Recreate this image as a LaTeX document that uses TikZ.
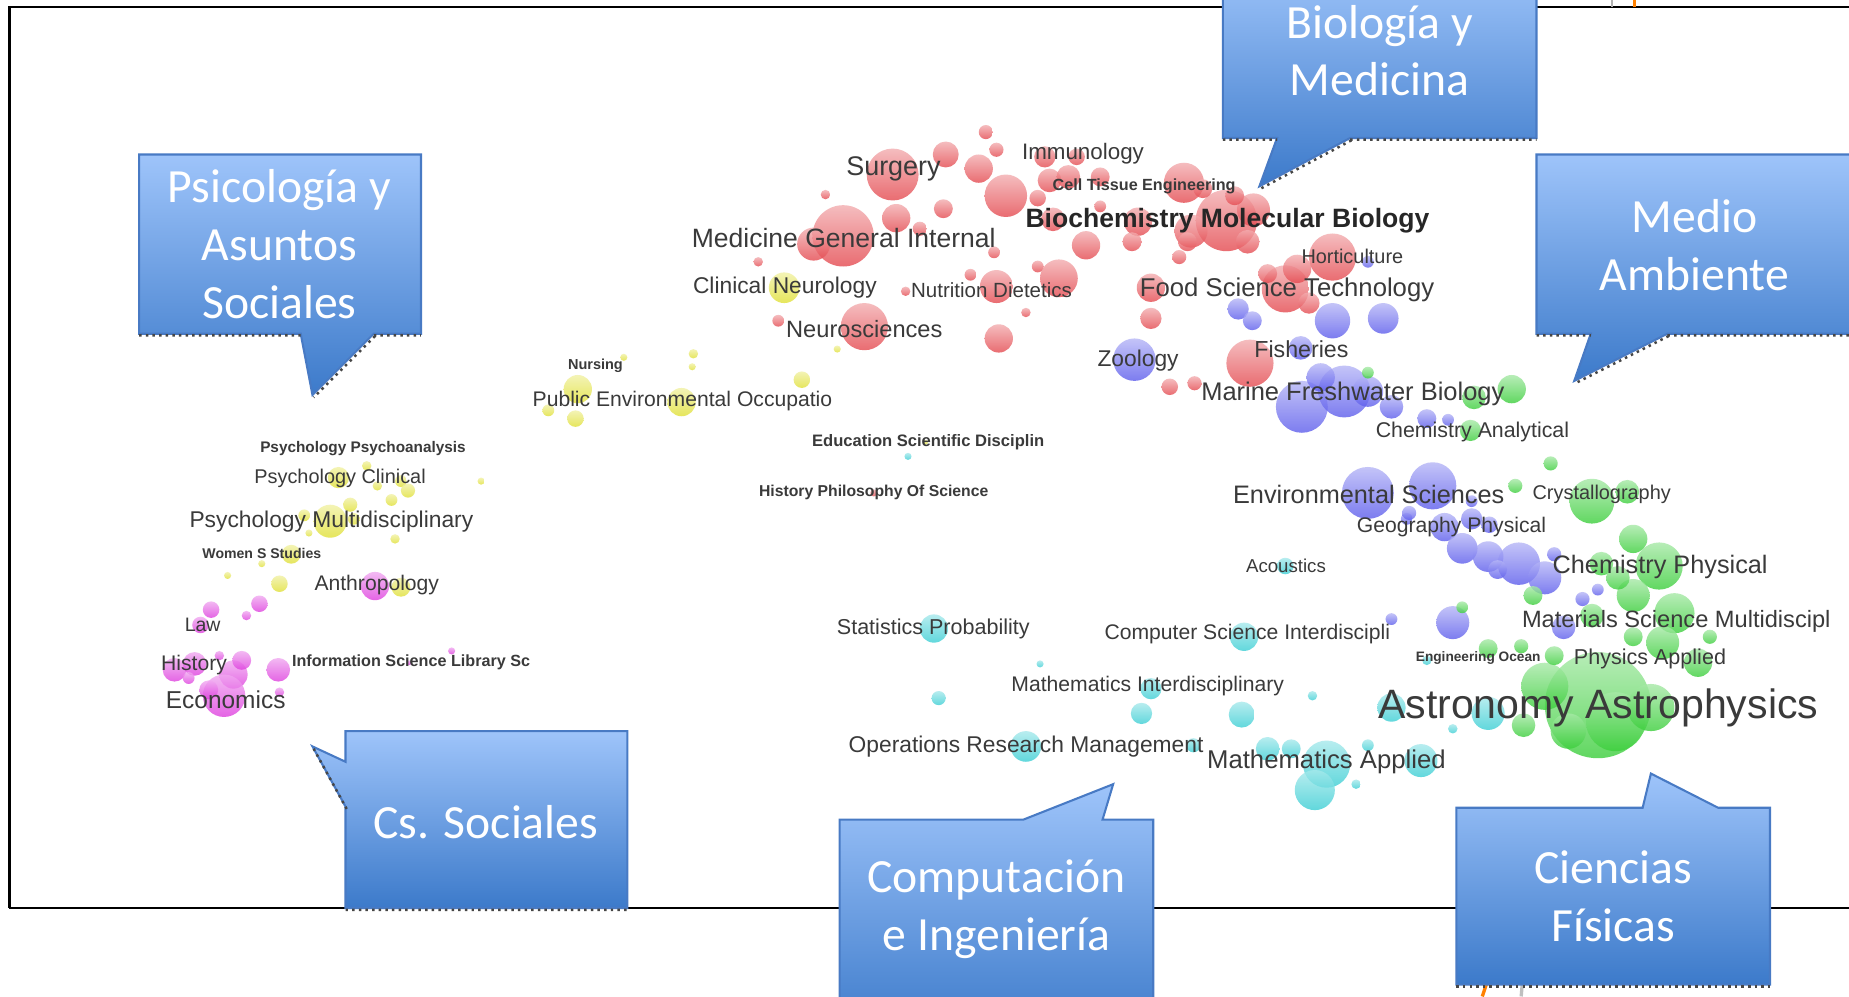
\documentclass[tikz,border=0pt]{standalone}
\usepackage{fontspec}
\setmainfont{Liberation Sans}
\newfontfamily\calloutfont{Carlito}
\usetikzlibrary{positioning}

\definecolor{bred}{RGB}{228,72,78}
\definecolor{bblue}{RGB}{92,92,236}
\definecolor{bgreen}{RGB}{58,206,58}
\definecolor{bcyan}{RGB}{58,206,212}
\definecolor{byellow}{RGB}{224,224,52}
\definecolor{bmag}{RGB}{222,62,222}
\definecolor{calltop}{RGB}{158,196,250}
\definecolor{callbot}{RGB}{60,122,202}
\definecolor{callline}{RGB}{72,122,196}
\definecolor{labgray}{RGB}{58,58,58}

\newcommand{\fsz}[1]{\fontsize{#1pt}{#1pt}\selectfont}
\newcommand{\bubbles}[2]{\foreach \bx/\by/\br in {#2} {\shade[bubble=#1] (\bx,\by) circle[radius=\br];}}

\begin{document}
\begin{tikzpicture}[x=0.1mm, y=-0.1mm,
  lab/.style={anchor=west, inner sep=0pt, text=labgray},
  labb/.style={anchor=west, inner sep=0pt, text=labgray},
  bubble/.style={top color=#1!45!white, bottom color=#1, fill opacity=0.8},
  callout/.style={draw=callline, line width=0.5pt, top color=calltop, bottom color=callbot},
  calltext/.style={text=white, align=center, inner sep=0pt, font=\calloutfont\fontsize{11.5pt}{13.9pt}\selectfont},
  shadowline/.style={draw=gray!55!black, densely dotted, line width=0.6pt}
]
\useasboundingbox (0,0) rectangle (1568,845);
\clip (0,0) rectangle (1568,845);
\fill[white] (0,0) rectangle (1568,845);

% Frame of the map
\draw[line width=0.6pt] (8,770) -- (8,6) -- (1600,6);
\draw[line width=0.6pt] (8,770) -- (1600,770);
\draw[gray!60, line width=0.6pt] (1367,0) -- (1367,6);
\draw[orange, line width=0.8pt] (1386,0) -- (1386,6);
\draw[orange, line width=0.8pt] (1262,830) -- (1257,845);
\draw[gray!50, line width=0.8pt] (1291,833) -- (1290,845);

% Bubbles
\bubbles{bred}{757/148/22, 802/131/11, 830/143/12, 836/112/6, 845/127/6, 853/166/18, 886/133/9, 890/153/10, 880/168/7, 906/150/10, 913/133/7, 933/150/8, 1004/155/17, 1040/187/26, 1010/196/14, 965/188/12, 921/208/12, 893/186/10, 880/226/5, 898/236/16, 845/243/14, 843/214/5, 870/265/4, 847/287/12, 715/200/26, 690/207/14, 760/185/12, 800/177/8, 780/194/6, 700/165/4, 643/222/4, 733/277/20, 660/272/5, 768/247/4, 823/233/5, 976/244/12, 976/270/9, 1060/308/20, 992/328/7, 1013/325/6, 1090/245/20, 1130/218/20, 1100/228/12, 1075/232/8, 1063/178/14, 1058/205/10, 1007/205/8, 1110/257/9, 1020/160/8, 1047/166/8, 960/205/8, 1000/218/6, 933/175/5, 741/418/3}
\bubbles{bblue}{962/305/18, 1050/262/9, 1062/272/8, 1130/272/15, 1173/270/13, 1103/295/10, 1104/345/22, 1140/332/22, 1120/320/12, 1160/332/13, 1180/345/10, 1210/355/8, 1228/356/5, 1160/418/22, 1215/412/20, 1193/440/5, 1225/447/12, 1248/440/9, 1240/465/13, 1262/472/13, 1288/478/18, 1310/490/14, 1270/483/8, 1318/470/6, 1232/528/14, 1180/525/5, 1326/532/10, 1342/508/6, 1355/500/5, 1248/425/5, 1263/445/7, 1160/222/5, 1195/435/6}
\bubbles{bgreen}{1282/330/12, 1250/337/10, 1247/365/9, 1315/393/6, 1285/412/6, 1350/425/19, 1380/417/10, 1385/457/12, 1358/478/10, 1407/480/20, 1420/520/17, 1385/505/14, 1372/490/10, 1350/522/10, 1385/540/8, 1410/545/14, 1440/562/12, 1450/540/6, 1355/598/45, 1370/612/25, 1310/582/20, 1292/615/10, 1330/620/15, 1318/556/8, 1262/550/8, 1240/515/5, 1300/505/8, 1160/316/5, 1290/548/6, 1400/600/20}
\bubbles{bcyan}{792/533/12, 770/387/3, 882/563/3, 796/592/6, 870/633/13, 968/605/9, 976/584/9, 1012/632/6, 1055/540/12, 1053/606/11, 1075/635/10, 1113/590/4, 1125/648/20, 1115/670/17, 1095/635/8, 1160/632/5, 1150/665/4, 1205/645/14, 1180/600/12, 1262/605/14, 1232/618/4, 1090/480/7, 1210/560/4}
\bubbles{byellow}{665/244/13, 710/296/3, 490/330/12, 488/355/7, 465/348/5, 578/341/12, 529/303/3, 588/300/4, 587/311/3, 680/322/7, 408/408/3, 311/395/4, 287/405/9, 340/408/5, 346/416/6, 297/428/6, 332/424/5, 320/412/4, 280/442/14, 258/437/5, 335/457/4, 247/470/8, 237/495/7, 222/478/3, 193/488/3, 262/452/3, 340/498/8, 300/440/5, 785/375/2}
\bubbles{bmag}{318/497/12, 220/512/7, 209/522/4, 179/517/7, 170/530/7, 148/568/10, 165/563/10, 198/572/12, 190/590/18, 177/585/8, 236/568/10, 186/556/4, 237/587/4, 383/552/3, 347/562/2, 160/575/5, 205/560/8}

% Biology and medicine labels
\node[lab, font=\fsz{6.5}] (surgery) at (717,143) {Surgery};
\node[lab, font=\fsz{5.4}] (immunology) at (866,130) {Immunology};
\node[labb, font=\bfseries\fsz{3.9}] (celltissue) at (892,158) {Cell Tissue Engineering};
\node[lab, text=black!85, font=\bfseries\fsz{6.4}] (biochem) at (869,187) {Biochemistry Molecular Biology};
\node[lab, font=\fsz{6.4}] (medicine) at (586,202) {Medicine General Internal};
\node[lab, font=\fsz{4.8}] (horticulture) at (1103,217) {Horticulture};
\node[lab, font=\fsz{5.5}] (clinneuro) at (587,244) {Clinical Neurology};
\node[lab, font=\fsz{4.95}] (nutrition) at (772,246) {Nutrition Dietetics};
\node[lab, font=\fsz{6.2}] (foodsci) at (966,246) {Food Science Technology};
\node[lab, font=\fsz{5.7}] (neuro) at (666,279) {Neurosciences};
\node[lab, font=\fsz{5.6}] (fisheries) at (1063,296) {Fisheries};
\node[lab, font=\fsz{5.5}] (zoology) at (930,306) {Zoology};
\node[labb, font=\bfseries\fsz{3.5}] (nursing) at (481,310) {Nursing};
\node[lab, font=\fsz{6.15}] (marine) at (1018,334) {Marine Freshwater Biology};
\node[lab, font=\fsz{5.1}] (publicenv) at (451,340) {Public Environmental Occupatio};

% Environment and physical sciences labels
\node[lab, font=\fsz{5.15}] (chemanal) at (1166,366) {Chemistry Analytical};
\node[lab, font=\fsz{6.1}] (envsci) at (1045,419) {Environmental Sciences};
\node[lab, font=\fsz{4.8}] (crystal) at (1299,419) {Crystallography};
\node[lab, font=\fsz{5.1}] (geography) at (1150,447) {Geography Physical};
\node[lab, font=\fsz{4.5}] (acoustics) at (1056,480) {Acoustics};
\node[lab, font=\fsz{6.1}] (chemphys) at (1316,481) {Chemistry Physical};
\node[lab, font=\fsz{5.7}] (materials) at (1290,527) {Materials Science Multidiscipl};
\node[labb, font=\bfseries\fsz{3.3}] (engocean) at (1200,558) {Engineering Ocean};
\node[lab, font=\fsz{5.2}] (physapp) at (1334,559) {Physics Applied};
\node[lab, font=\fsz{9.9}] (astro) at (1168,600) {Astronomy Astrophysics};

% Computing labels
\node[labb, font=\bfseries\fsz{4.0}] (education) at (688,375) {Education Scientific Disciplin};
\node[labb, font=\bfseries\fsz{3.8}] (histphil) at (643,418) {History Philosophy Of Science};
\node[lab, font=\fsz{5.2}] (stats) at (709,533) {Statistics Probability};
\node[lab, font=\fsz{5.1}] (compsci) at (936,538) {Computer Science Interdiscipli};
\node[lab, font=\fsz{5.1}] (mathinter) at (857,582) {Mathematics Interdisciplinary};
\node[lab, font=\fsz{5.5}] (opsres) at (719,633) {Operations Research Management};
\node[lab, font=\fsz{6.2}] (mathapp) at (1023,646) {Mathematics Applied};

% Social sciences labels
\node[labb, font=\bfseries\fsz{3.7}] (psychoanalysis) at (220,380) {Psychology Psychoanalysis};
\node[lab, font=\fsz{4.8}] (psychclin) at (215,406) {Psychology Clinical};
\node[lab, font=\fsz{5.5}] (psychmulti) at (160,442) {Psychology Multidisciplinary};
\node[labb, font=\bfseries\fsz{3.4}] (women) at (171,469) {Women S Studies};
\node[lab, font=\fsz{5.1}] (anthro) at (266,496) {Anthropology};
\node[lab, font=\fsz{4.7}] (law) at (156,530) {Law};
\node[labb, font=\bfseries\fsz{3.9}] (infosci) at (247,562) {Information Science Library Sc};
\node[lab, font=\fsz{5.1}] (history) at (136,564) {History};
\node[lab, font=\fsz{5.9}] (economics) at (140,593) {Economics};

% Callouts
\draw[callout] (118,131) -- (357,131) -- (357,283) -- (317,283) -- (265,335) -- (255,283) -- (118,283) -- cycle;
\draw[shadowline] (118,284.5) -- (255,284.5) (317,284.5) -- (357,284.5) (318,285) -- (266,337);
\node[calltext] (psico) at (237,207) {Psicología y\\Asuntos\\Sociales};

\draw[callout] (1037,-30) -- (1303,-30) -- (1303,117) -- (1145,117) -- (1068,158) -- (1083,117) -- (1037,117) -- cycle;
\draw[shadowline] (1037,118.5) -- (1083,118.5) (1145,118.5) -- (1303,118.5) (1146,119) -- (1069,160);
\node[calltext] (biomed) at (1170,43) {Biología y\\Medicina};

\draw[callout] (1303,131) -- (1571,131) -- (1571,283) -- (1414,283) -- (1335,323) -- (1349,283) -- (1303,283) -- cycle;
\draw[shadowline] (1303,284.5) -- (1349,284.5) (1414,284.5) -- (1571,284.5) (1415,285) -- (1336,325);
\node[calltext] (medio) at (1437,208) {Medio\\Ambiente};

\draw[callout] (293,620) -- (532,620) -- (532,770) -- (293,770) -- (293,684) -- (265,633) -- (293,646) -- cycle;
\draw[shadowline] (293,771.5) -- (532,771.5) (294,686) -- (266,635);
\node[calltext] (cssoc) at (412,697) {Cs. Sociales};

\draw[callout] (712,695) -- (868,695) -- (944,665) -- (935,695) -- (978,695) -- (978,880) -- (712,880) -- cycle;
\node[calltext] (compu) at (845,771) {Computación\\e Ingeniería};

\draw[callout] (1235,685) -- (1393,685) -- (1400,656) -- (1457,685) -- (1501,685) -- (1501,835) -- (1235,835) -- cycle;
\draw[shadowline] (1235,836.5) -- (1501,836.5);
\node[calltext] (fisicas) at (1368,760) {Ciencias\\Físicas};

\end{tikzpicture}
\end{document}
